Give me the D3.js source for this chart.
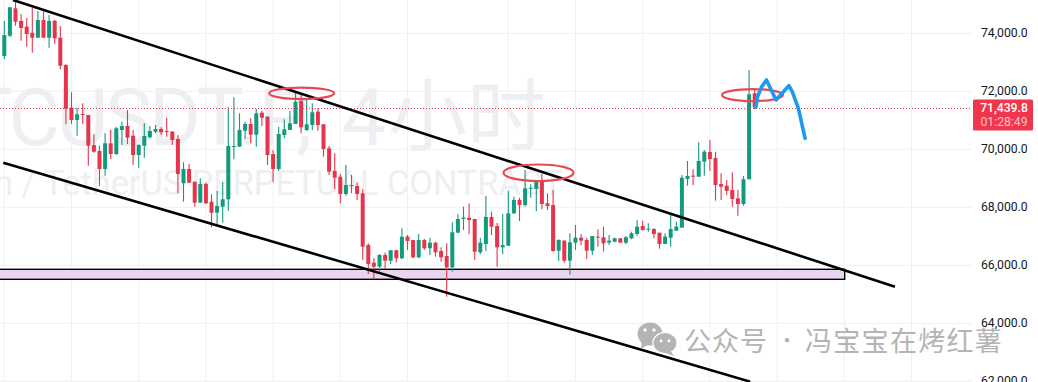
<!DOCTYPE html>
<html>
<head>
<meta charset="utf-8">
<style>
  html, body { margin: 0; padding: 0; background: #fff; }
  svg { display: block; }
  .tick text { font-family: Roboto, sans-serif; font-size: 12.2px; fill: #131722; }
</style>
</head>
<body>
<div id="chart"></div>
<script src="https://cdn.jsdelivr.net/npm/d3@7"></script>
<script>
'use strict';

const opens = [73217,73917,74862,74424,74227,74020,73848,74458,73848,74434,
  73848,72907,71435,71010,71217,71183,70148,69942,69321,70207,
  69838,70666,70804,70469,69804,70124,70414,70607,70700,70631,
  70607,70355,68828,69321,68883,68159,68804,68193,67814,68021,
  68276,70090,70090,70641,70872,70504,71262,71124,69838,69321,
  70493,70666,70872,71666,70666,70838,71297,70862,70035,69252,
  69055,68459,68769,68735,68483,66700,66090,65952,66356,66159,
  66518,66242,66987,66873,66276,66873,66587,66780,66494,66321,
  65931,67125,67597,67642,67597,66449,66735,67666,67356,66621,
  66676,67793,68252,68080,68642,68631,68883,68138,68080,66504,
  66849,66159,66780,66952,66873,66504,66987,66966,66780,66814,
  66931,66780,66931,67080,67356,67242,67252,67125,66735,66952,
  67194,67297,68976,69090,69055,69573,69907,69700,68804,68745,
  68597,68311,68114,68966,71931];

const highs = [74424,74907,75148,74665,74527,74872,74769,74827,74631,74458,
  74252,72931,71966,71435,71586,71183,70517,70124,70552,70666,
  70779,70952,71355,70666,70172,70897,70804,70838,70759,71090,
  70631,70493,69552,69493,68883,69000,68848,68449,68562,68862,
  71448,71793,71241,70952,71069,71390,71331,71148,69976,70779,
  71035,71321,71986,71931,71700,71586,71414,70862,70114,69862,
  69148,69459,69114,68862,68621,66759,66242,66390,66435,66528,
  66528,67276,67045,66873,67080,66907,66952,66814,66621,66759,
  67483,67759,68021,68138,67597,66952,68390,67849,67459,67769,
  68573,68366,68331,69286,68793,68942,69148,68483,68597,66897,
  66873,67104,67390,67080,66952,67011,67242,67331,67045,66952,
  66942,67011,67159,67562,67538,67449,67276,67125,67104,67814,
  67504,69114,69597,69311,70242,69976,70321,69917,69173,68942,
  69207,68597,69080,72734,72114];

const lows = [73114,73872,74262,73745,73538,73331,73848,73848,73503,73631,
  72759,70862,70872,70469,70862,69435,69883,68735,69090,69666,
  69804,70148,70183,69459,69366,69711,70379,70562,70493,70435,
  70148,68483,68193,68848,68021,68159,68114,67311,67414,67469,
  67883,69655,70090,70355,70207,70090,70804,69459,68862,69262,
  70379,70666,70872,70552,70631,70666,70641,69745,69114,68631,
  68138,68400,68483,68252,66183,65700,65518,65780,65873,66045,
  66104,66207,66528,66242,66242,66528,66356,66297,66125,64918,
  65780,67104,67218,67069,66183,66380,66494,67045,65952,66380,
  66676,67769,67528,68021,68331,67873,67931,67907,66469,66149,
  66090,65666,66528,66700,66218,66356,66642,66469,66700,66794,
  66770,66735,66897,67021,67194,67159,66931,66573,66735,66642,
  67183,67297,68745,68769,69055,69090,69252,68228,68252,68424,
  68021,67711,68056,68966,71379];

const closes = [73941,74896,74400,74183,73976,73848,74458,73848,74424,73827,
  72883,71400,71010,71207,71183,70124,69917,69321,70207,69838,
  70724,70804,70400,69804,70148,70459,70631,70700,70586,70607,
  70321,69148,69321,68848,68159,68804,68138,67814,68045,68276,
  70114,70114,70666,70872,70504,71241,71090,69804,69321,70528,
  70690,70897,71641,70759,70862,71276,70838,70010,69228,69021,
  68459,68769,68735,68459,66642,66045,65952,66356,66159,66518,
  66242,66987,66838,66276,66873,66587,66780,66449,66276,65931,
  67138,67597,67642,67562,66469,66780,67666,67331,66621,66700,
  67793,68252,68080,68655,68676,68883,68114,68045,66494,66873,
  66159,66794,66952,66849,66504,67011,66966,66759,66849,66931,
  66780,66966,67104,67331,67218,67263,67080,66735,66987,67252,
  67331,69021,69080,69069,69597,69917,69666,68769,68711,68562,
  68286,68114,68966,71897,71439.8];

const priceTicks = [62000, 64000, 66000, 68000, 70000, 72000, 74000];
// candle numbers where the time grid falls, the step jumps once in the middle
const timeGrid = [0, 12, 24, 36, 48, 60, 72, 90, 102, 114, 126, 138, 150, 162];

const lastPrice = 71439.8;
const countdown = '01:28:49';

// hand drawn stuff, in candle number / price
const upperChannel = [[1.55, 75148], [159.05, 65263]];
const lowerChannel = [[-0.18, 69538], [133.2, 61987]];
const zoneEnd = 150.07;
const zoneTop = 65862;
const zoneBottom = 65517;
const ringCandle = [53.1, 95.4, 133.6];
const ringPrice = [71930, 69190, 71870];
const ringCandleRadius = [5.8, 6.25, 5.45];
const ringPriceRadius = [200, 286, 207];
const sketchCandle = [134.2, 134.5, 135.25, 136.1, 137.8, 140.1, 140.7, 141.8, 142.6, 143];
const sketchPrice = [71448, 71814, 72159, 72390, 71700, 72193, 71986, 71414, 70724, 70379];

const width = 1038, height = 382;
const plotRight = 972;

const x = d3.scaleLinear().domain([0, 134]).range([4.3, 754.7]);
const y = d3.scaleLinear().domain([62000, 74000]).range([381.3, 33.3]);

const GREEN = '#129a7d';
const RED = '#e5354c';

const svg = d3.select('#chart').append('svg')
  .attr('width', width)
  .attr('height', height);

svg.append('rect').attr('width', width).attr('height', height).attr('fill', '#fff');

// watermark, split in pieces so each one lands where it does in the chart
const mark = svg.append('g')
  .attr('fill', '#edeff2')
  .attr('text-anchor', 'end')
  .style('font-family', 'Roboto, "Noto Sans CJK SC", sans-serif');
mark.append('text')
  .attr('x', 241)
  .attr('y', 145)
  .style('font-size', '79px')
  .style('letter-spacing', '-3px')
  .text('BTCUSDT');
mark.append('text')
  .attr('x', 312)
  .attr('y', 145)
  .style('font-size', '79px')
  .text('.P,');
mark.append('text')
  .attr('x', 386)
  .attr('y', 145)
  .style('font-size', '79px')
  .text('4');
mark.append('text')
  .attr('x', 546)
  .attr('y', 145)
  .style('font-size', '79px')
  .text('小时');
mark.append('text')
  .attr('x', 563)
  .attr('y', 195)
  .style('font-size', '34.3px')
  .text('Bitcoin / TetherUS PERPETUAL CONTRACT');

// grid
const grid = svg.append('g').attr('stroke', '#f0f1f4').attr('stroke-width', 1);
grid.selectAll('.h')
  .data(priceTicks)
  .enter()
  .append('line')
  .attr('class', 'h')
  .attr('x1', 0)
  .attr('x2', plotRight)
  .attr('y1', (d) => y(d))
  .attr('y2', (d) => y(d));
grid.selectAll('.v')
  .data(timeGrid)
  .enter()
  .append('line')
  .attr('class', 'v')
  .attr('x1', (d) => x(d))
  .attr('x2', (d) => x(d))
  .attr('y1', 0)
  .attr('y2', height);

// support zone sits under the candles
svg.append('rect')
  .attr('x', -2)
  .attr('y', y(zoneTop))
  .attr('width', x(zoneEnd) + 2)
  .attr('height', y(zoneBottom) - y(zoneTop))
  .attr('fill', '#e9d5f0')
  .attr('stroke', '#000')
  .attr('stroke-width', 1.4);

// candles
const candles = svg.append('g').selectAll('g')
  .data(d3.range(opens.length))
  .enter()
  .append('g')
  .attr('fill', (i) => closes[i] >= opens[i] ? GREEN : RED)
  .attr('stroke', (i) => closes[i] >= opens[i] ? GREEN : RED);

candles.append('line')
  .attr('x1', (i) => x(i))
  .attr('x2', (i) => x(i))
  .attr('y1', (i) => y(highs[i]))
  .attr('y2', (i) => y(lows[i]))
  .attr('stroke-width', 1.1);

candles.append('rect')
  .attr('x', (i) => x(i) - 2)
  .attr('width', 4)
  .attr('y', (i) => y(Math.max(opens[i], closes[i])))
  .attr('height', (i) => Math.max(1, Math.abs(y(opens[i]) - y(closes[i]))))
  .attr('stroke', 'none');

// last price line, snapped so the dots stay sharp
const lastY = Math.round(y(lastPrice)) + 0.5;
svg.append('line')
  .attr('x1', 0)
  .attr('x2', plotRight)
  .attr('y1', lastY)
  .attr('y2', lastY)
  .attr('stroke', '#e8304a')
  .attr('stroke-width', 1)
  .attr('stroke-dasharray', '1 2');

// channel
const lineFunction = d3.line()
  .x((d) => x(d[0]))
  .y((d) => y(d[1]));

svg.selectAll('.channel')
  .data([upperChannel, lowerChannel])
  .enter()
  .append('path')
  .attr('class', 'channel')
  .attr('d', lineFunction)
  .attr('fill', 'none')
  .attr('stroke', '#000')
  .attr('stroke-width', 2.6);

// red rings
svg.selectAll('.ring')
  .data(ringCandle)
  .enter()
  .append('ellipse')
  .attr('class', 'ring')
  .attr('cx', (d) => x(d))
  .attr('cy', (d, i) => y(ringPrice[i]))
  .attr('rx', (d, i) => x(ringCandleRadius[i]) - x(0))
  .attr('ry', (d, i) => y(ringPrice[i] - ringPriceRadius[i]) - y(ringPrice[i]))
  .attr('fill', 'none')
  .attr('stroke', '#e84a55')
  .attr('stroke-width', 2.2);

// blue forecast scribble
svg.append('path')
  .attr('d', lineFunction(sketchCandle.map((d, i) => [d, sketchPrice[i]])))
  .attr('fill', 'none')
  .attr('stroke', '#1b9af0')
  .attr('stroke-width', 3.6)
  .attr('stroke-linecap', 'round')
  .attr('stroke-linejoin', 'round');

// price axis
svg.append('g')
  .attr('transform', 'translate(981,-1)')
  .call(d3.axisRight(y)
    .tickValues(priceTicks)
    .tickSize(0)
    .tickPadding(0)
    .tickFormat(d3.format(',.1f')))
  .call((g) => g.select('.domain').remove());

// last price tag
const tag = svg.append('g');
tag.append('rect')
  .attr('x', 973)
  .attr('y', y(lastPrice) - 8)
  .attr('width', 60)
  .attr('height', 31)
  .attr('rx', 1.5)
  .attr('fill', '#f0364c');
tag.append('text')
  .attr('x', 1004)
  .attr('y', y(lastPrice) + 4)
  .attr('text-anchor', 'middle')
  .attr('fill', '#fff')
  .style('font-family', 'Roboto, sans-serif')
  .style('font-size', '12.2px')
  .style('font-weight', 500)
  .text(d3.format(',.1f')(lastPrice));
tag.append('text')
  .attr('x', 1004)
  .attr('y', y(lastPrice) + 18)
  .attr('text-anchor', 'middle')
  .attr('fill', '#fff')
  .attr('fill-opacity', 0.7)
  .style('font-family', 'Roboto, sans-serif')
  .style('font-size', '12.2px')
  .text(countdown);

// wechat stamp
const stamp = svg.append('g');
const BUBBLE = '#b4b4b4';
stamp.append('ellipse').attr('cx', 650).attr('cy', 334).attr('rx', 12.5).attr('ry', 11.5).attr('fill', BUBBLE);
stamp.append('path').attr('d', 'M642 341 L641 349 L649 344 Z').attr('fill', BUBBLE);
stamp.append('ellipse').attr('cx', 665).attr('cy', 343).attr('rx', 12).attr('ry', 10.5).attr('fill', BUBBLE).attr('stroke', '#fff').attr('stroke-width', 1.2);
stamp.append('path').attr('d', 'M670 350 L674 356 L663 352 Z').attr('fill', BUBBLE);
[[645, 330, 1.7], [654, 330, 1.7], [661, 341, 1.4], [669, 341, 1.4]].forEach((e) => {
  stamp.append('circle').attr('cx', e[0]).attr('cy', e[1]).attr('r', e[2]).attr('fill', '#fff');
});
svg.append('text')
  .attr('x', 684)
  .attr('y', 351)
  .attr('fill', '#b4b4b4')
  .style('font-family', '"Noto Sans CJK SC", sans-serif')
  .style('font-size', '27px')
  .style('letter-spacing', '1px')
  .text('公众号');
svg.append('text')
  .attr('x', 787)
  .attr('y', 348)
  .attr('fill', '#b4b4b4')
  .attr('text-anchor', 'middle')
  .style('font-family', '"Noto Sans CJK SC", sans-serif')
  .style('font-size', '20px')
  .text('·');
svg.append('text')
  .attr('x', 805)
  .attr('y', 351)
  .attr('fill', '#b4b4b4')
  .style('font-family', '"Noto Sans CJK SC", sans-serif')
  .style('font-size', '27px')
  .style('letter-spacing', '1.3px')
  .text('冯宝宝在烤红薯');
</script>
</body>
</html>
